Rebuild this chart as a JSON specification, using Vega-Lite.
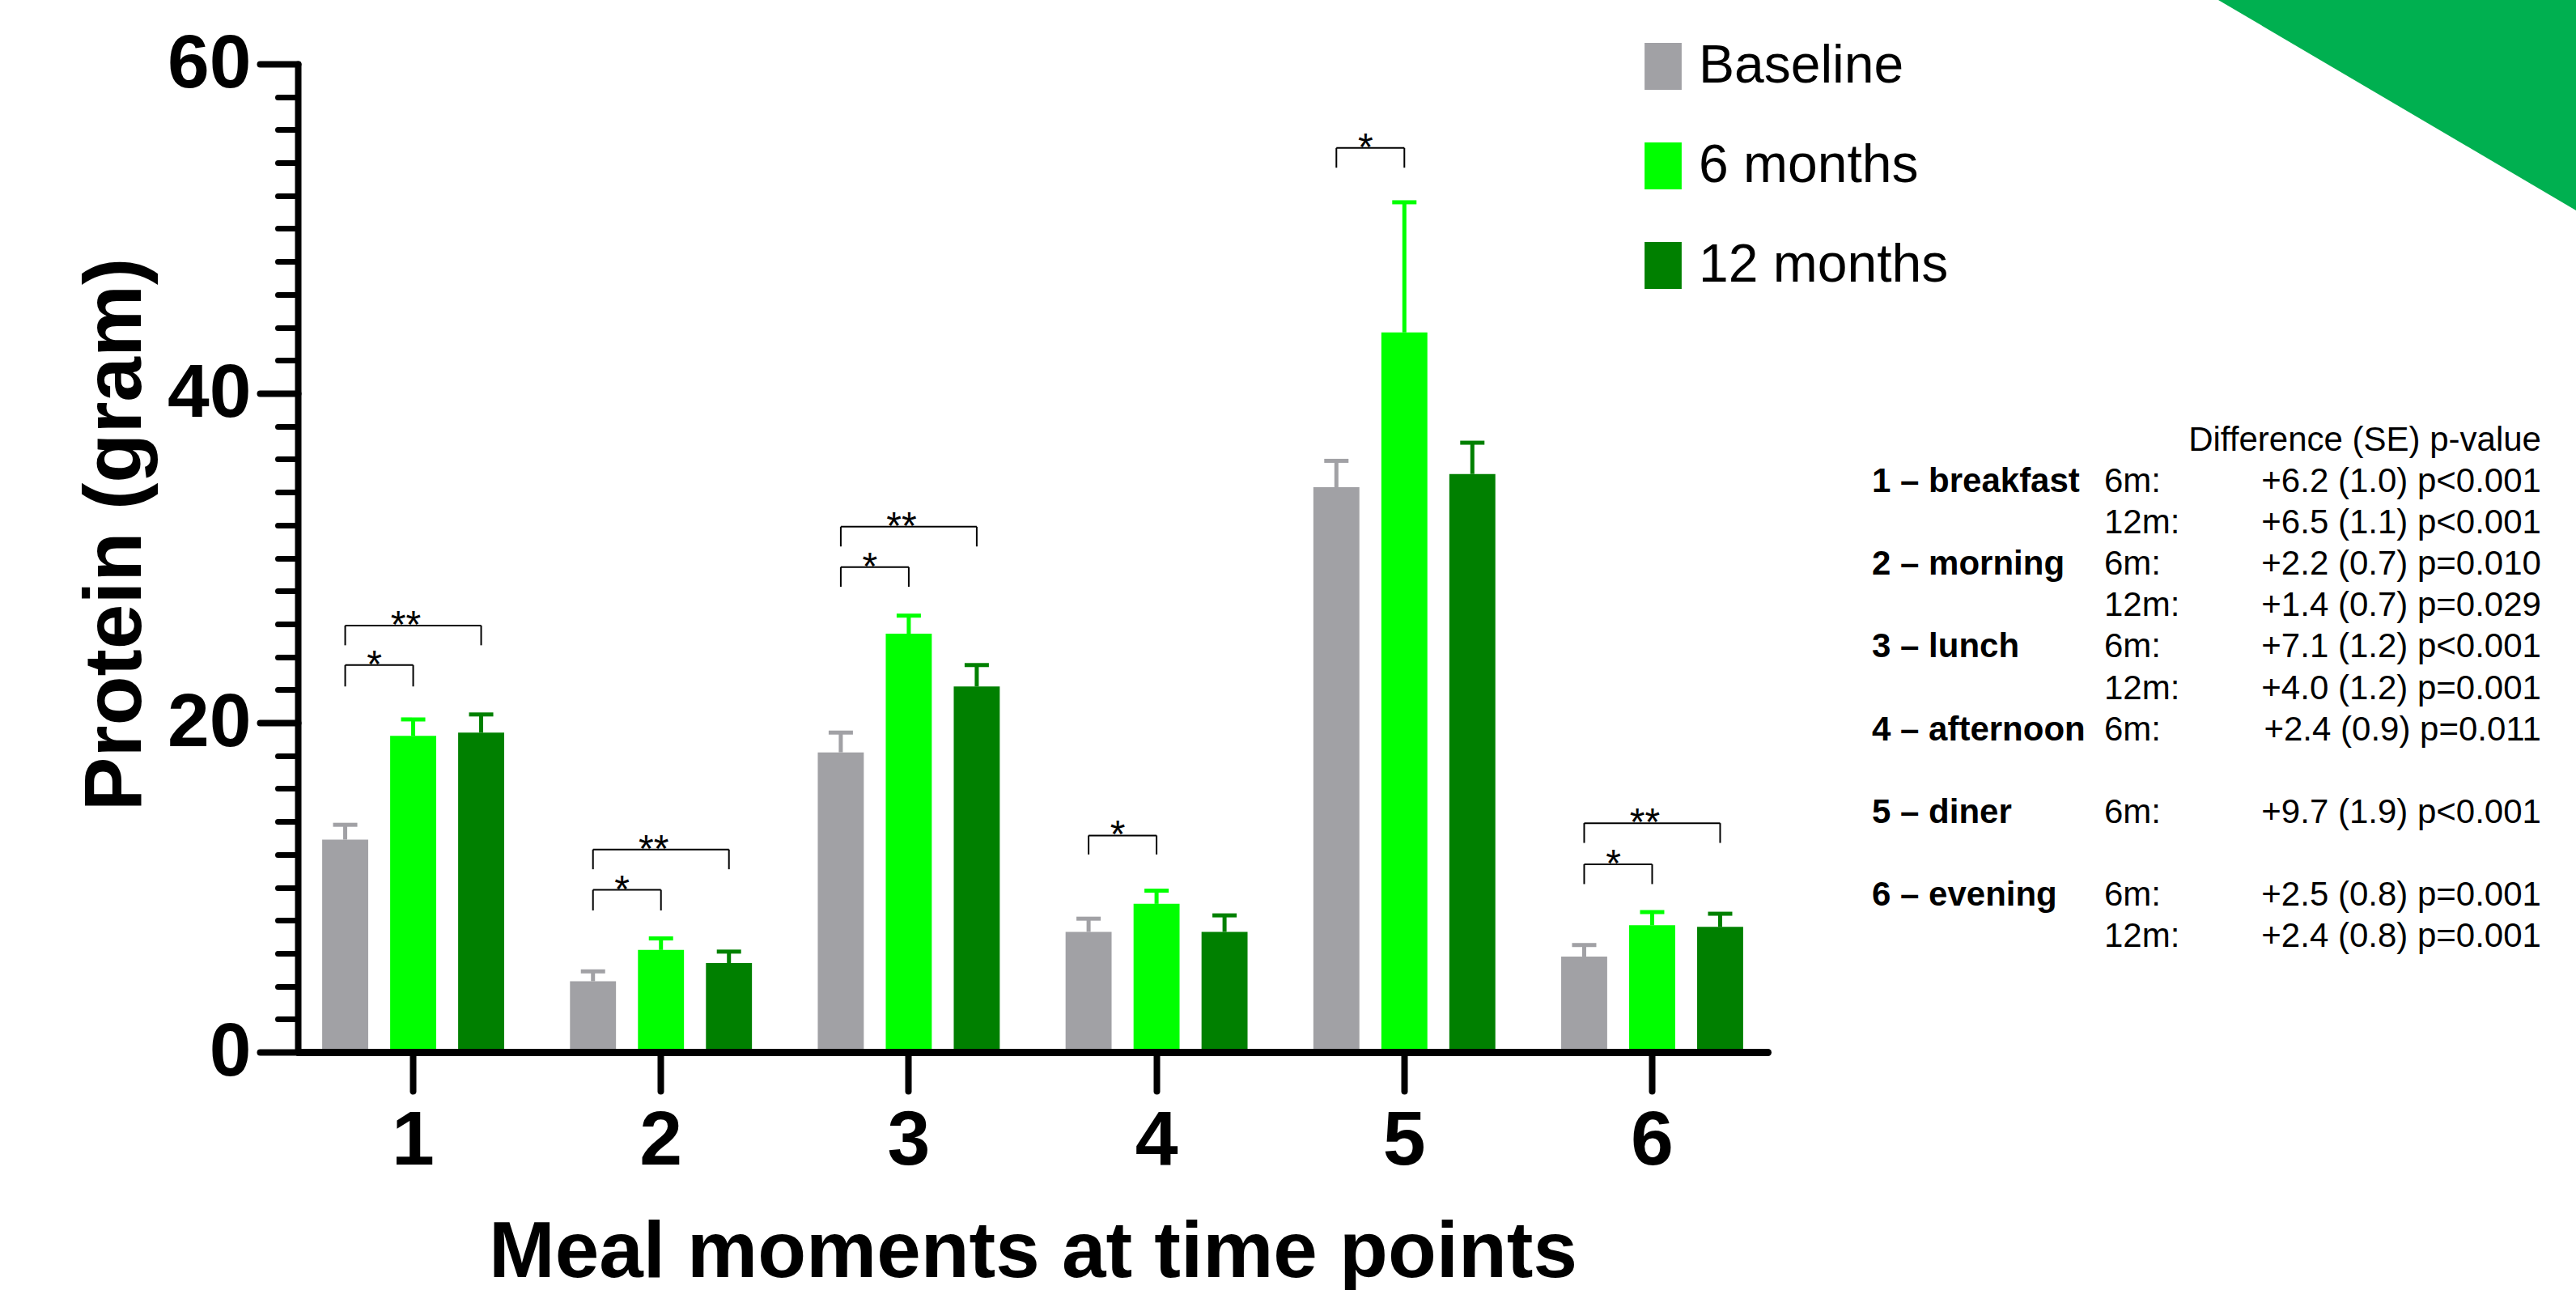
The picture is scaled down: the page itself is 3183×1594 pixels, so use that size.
{
  "$schema": "https://vega.github.io/schema/vega-lite/v6.json",
  "autosize": {"type": "none"},
  "padding": {"left": 368, "top": 79, "right": 2815, "bottom": 1515},
  "background": "white",
  "bounds": "flush",
  "spacing": 129,
  "config": {"view": {"stroke": null}, "font": "Liberation Sans"},
  "datasets": {
    "bars": [
      {"meal": 1, "time": "Baseline", "mean": 12.9, "upper": 13.8},
      {"meal": 1, "time": "6 months", "mean": 19.2, "upper": 20.2},
      {"meal": 1, "time": "12 months", "mean": 19.4, "upper": 20.5},
      {"meal": 2, "time": "Baseline", "mean": 4.3, "upper": 4.9},
      {"meal": 2, "time": "6 months", "mean": 6.2, "upper": 6.9},
      {"meal": 2, "time": "12 months", "mean": 5.4, "upper": 6.1},
      {"meal": 3, "time": "Baseline", "mean": 18.2, "upper": 19.4},
      {"meal": 3, "time": "6 months", "mean": 25.4, "upper": 26.5},
      {"meal": 3, "time": "12 months", "mean": 22.2, "upper": 23.5},
      {"meal": 4, "time": "Baseline", "mean": 7.3, "upper": 8.1},
      {"meal": 4, "time": "6 months", "mean": 9.0, "upper": 9.8},
      {"meal": 4, "time": "12 months", "mean": 7.3, "upper": 8.3},
      {"meal": 5, "time": "Baseline", "mean": 34.3, "upper": 35.9},
      {"meal": 5, "time": "6 months", "mean": 43.7, "upper": 51.6},
      {"meal": 5, "time": "12 months", "mean": 35.1, "upper": 37.0},
      {"meal": 6, "time": "Baseline", "mean": 5.8, "upper": 6.5},
      {"meal": 6, "time": "6 months", "mean": 7.7, "upper": 8.5},
      {"meal": 6, "time": "12 months", "mean": 7.6, "upper": 8.4}
    ],
    "brackets": [
      {"meal": 1, "from": "Baseline", "to": "6 months", "top": 23.5, "legEnd": 22.2, "label": "*"},
      {"meal": 1, "from": "Baseline", "to": "12 months", "top": 25.9, "legEnd": 24.7, "label": "**"},
      {"meal": 2, "from": "Baseline", "to": "6 months", "top": 9.85, "legEnd": 8.6, "label": "*"},
      {"meal": 2, "from": "Baseline", "to": "12 months", "top": 12.3, "legEnd": 11.1, "label": "**"},
      {"meal": 3, "from": "Baseline", "to": "6 months", "top": 29.45, "legEnd": 28.25, "label": "*"},
      {"meal": 3, "from": "Baseline", "to": "12 months", "top": 31.9, "legEnd": 30.7, "label": "**"},
      {"meal": 4, "from": "Baseline", "to": "6 months", "top": 13.15, "legEnd": 12.0, "label": "*"},
      {"meal": 5, "from": "Baseline", "to": "6 months", "top": 54.9, "legEnd": 53.7, "label": "*"},
      {"meal": 6, "from": "Baseline", "to": "6 months", "top": 11.4, "legEnd": 10.2, "label": "*"},
      {"meal": 6, "from": "Baseline", "to": "12 months", "top": 13.9, "legEnd": 12.7, "label": "**"}
    ],
    "table": [
      {"line": 0, "label": "", "tp": "", "stat": "Difference (SE) p-value"},
      {"line": 1, "label": "1 – breakfast", "tp": "6m:", "stat": "+6.2 (1.0) p<0.001"},
      {"line": 2, "label": "", "tp": "12m:", "stat": "+6.5 (1.1) p<0.001"},
      {"line": 3, "label": "2 – morning", "tp": "6m:", "stat": "+2.2 (0.7) p=0.010"},
      {"line": 4, "label": "", "tp": "12m:", "stat": "+1.4 (0.7) p=0.029"},
      {"line": 5, "label": "3 – lunch", "tp": "6m:", "stat": "+7.1 (1.2) p<0.001"},
      {"line": 6, "label": "", "tp": "12m:", "stat": "+4.0 (1.2) p=0.001"},
      {"line": 7, "label": "4 – afternoon", "tp": "6m:", "stat": "+2.4 (0.9) p=0.011"},
      {"line": 9, "label": "5 – diner", "tp": "6m:", "stat": "+9.7 (1.9) p<0.001"},
      {"line": 11, "label": "6 – evening", "tp": "6m:", "stat": "+2.5 (0.8) p=0.001"},
      {"line": 12, "label": "", "tp": "12m:", "stat": "+2.4 (0.8) p=0.001"}
    ],
    "corner": [
      {"cx": 0, "ctop": 0, "cbottom": 0},
      {"cx": 1, "ctop": 0, "cbottom": 1}
    ]
  },
  "hconcat": [
    {
      "width": 1816,
      "height": 1221,
      "encoding": {
        "x": {
          "field": "meal", "type": "ordinal",
          "scale": {"type": "band", "domain": [1, 2, 3, 4, 5, 6], "paddingInner": 0.177, "paddingOuter": 0.054},
          "axis": {
            "title": "Meal moments at time points",
            "titleFontSize": 98, "titleFontWeight": "bold", "titleColor": "black",
            "titleBaseline": "alphabetic", "titleX": 908, "titleY": 277, "titleAlign": "center",
            "labelFontSize": 95, "labelFontWeight": "bold", "labelColor": "black",
            "labelPadding": 15, "labelAngle": 0,
            "domainColor": "black", "domainWidth": 9, "domainCap": "round",
            "tickColor": "black", "tickWidth": 8, "tickSize": 48, "tickCap": "round",
            "grid": false, "zindex": 1
          }
        },
        "xOffset": {
          "field": "time", "type": "nominal",
          "scale": {"domain": ["Baseline", "6 months", "12 months"], "paddingInner": 0.323, "paddingOuter": 0.1615}
        }
      },
      "layer": [
        {
          "data": {"name": "bars"},
          "mark": {"type": "bar"},
          "encoding": {
            "y": {
              "field": "mean", "type": "quantitative", "stack": null,
              "scale": {"domain": [0, 60], "nice": false},
              "axis": {
                "orient": "left",
                "values": [0, 20, 40, 60],
                "title": "Protein (gram)",
                "titleFontSize": 100, "titleFontWeight": "bold", "titleColor": "black",
                "titleAngle": 270, "titleBaseline": "alphabetic", "titleAlign": "center",
                "titleX": -195, "titleY": 581,
                "labelFontSize": 93, "labelFontWeight": "bold", "labelColor": "black",
                "labelPadding": 11, "labelFlush": false, "labelOverlap": false,
                "domainColor": "black", "domainWidth": 8, "domainCap": "round",
                "tickColor": "black", "tickWidth": 8, "tickSize": 47, "tickCap": "round",
                "grid": false, "zindex": 1
              }
            },
            "color": {
              "field": "time", "type": "nominal",
              "scale": {"domain": ["Baseline", "6 months", "12 months"], "range": ["#A1A1A5", "#00FF00", "#008000"]},
              "legend": {
                "orient": "none", "legendX": 1654, "legendY": -30,
                "title": null, "padding": 0,
                "symbolType": "M-0.79,-1H0.79V1H-0.79Z", "symbolSize": 3364,
                "symbolStrokeWidth": 0, "symbolOpacity": 1,
                "labelFontSize": 66, "labelColor": "black", "labelOffset": 11,
                "labelLimit": 1000, "rowPadding": 57
              }
            }
          }
        },
        {
          "data": {"name": "bars"},
          "mark": {"type": "rule", "strokeWidth": 5},
          "encoding": {
            "y": {
              "field": "mean", "type": "quantitative",
              "scale": {"domain": [0, 60], "nice": false},
              "axis": {
                "orient": "left",
                "values": [2, 4, 6, 8, 10, 12, 14, 16, 18, 22, 24, 26, 28, 30, 32, 34, 36, 38, 42, 44, 46, 48, 50, 52, 54, 56, 58],
                "title": null, "labels": false, "domain": false, "grid": false,
                "tickColor": "black", "tickWidth": 7, "tickSize": 25, "tickCap": "round"
              }
            },
            "y2": {"field": "upper"},
            "color": {
              "field": "time", "type": "nominal",
              "scale": {"domain": ["Baseline", "6 months", "12 months"], "range": ["#A1A1A5", "#00FF00", "#008000"]},
              "legend": null
            }
          }
        },
        {
          "data": {"name": "bars"},
          "mark": {"type": "tick", "thickness": 5, "size": 30, "opacity": 1},
          "encoding": {
            "y": {"field": "upper", "type": "quantitative", "scale": {"domain": [0, 60], "nice": false}, "axis": null},
            "color": {
              "field": "time", "type": "nominal",
              "scale": {"domain": ["Baseline", "6 months", "12 months"], "range": ["#A1A1A5", "#00FF00", "#008000"]},
              "legend": null
            }
          }
        },
        {
          "data": {"name": "brackets"},
          "transform": [{"fold": ["from", "to"], "as": ["end", "time"]}],
          "mark": {"type": "line", "color": "black", "strokeWidth": 2},
          "encoding": {
            "y": {"field": "top", "type": "quantitative", "scale": {"domain": [0, 60], "nice": false}, "axis": null},
            "detail": [{"field": "meal", "type": "nominal"}, {"field": "label", "type": "nominal"}]
          }
        },
        {
          "data": {"name": "brackets"},
          "transform": [{"fold": ["from", "to"], "as": ["end", "time"]}],
          "mark": {"type": "rule", "color": "black", "strokeWidth": 2},
          "encoding": {
            "y": {"field": "top", "type": "quantitative", "scale": {"domain": [0, 60], "nice": false}, "axis": null},
            "y2": {"field": "legEnd"}
          }
        },
        {
          "data": {"name": "brackets"},
          "transform": [{"filter": "datum.label === '*'"}],
          "mark": {"type": "text", "fontSize": 48, "color": "black", "align": "center", "baseline": "alphabetic", "dy": 15, "dx": -48},
          "encoding": {
            "xOffset": {"datum": "6 months"},
            "y": {"field": "top", "type": "quantitative", "scale": {"domain": [0, 60], "nice": false}, "axis": null},
            "text": {"field": "label"}
          }
        },
        {
          "data": {"name": "brackets"},
          "transform": [{"filter": "datum.label === '**'"}],
          "mark": {"type": "text", "fontSize": 48, "color": "black", "align": "center", "baseline": "alphabetic", "dy": 15, "dx": -9},
          "encoding": {
            "xOffset": {"datum": "6 months"},
            "y": {"field": "top", "type": "quantitative", "scale": {"domain": [0, 60], "nice": false}, "axis": null},
            "text": {"field": "label"}
          }
        }
      ],
      "resolve": {"axis": {"y": "independent"}}
    },
    {
      "width": 870,
      "height": 1221,
      "layer": [
        {
          "data": {"name": "table"},
          "encoding": {
            "y": {"field": "line", "type": "quantitative", "scale": {"domain": [-9.354, 14.54], "reverse": true, "zero": false, "nice": false}, "axis": null}
          },
          "layer": [
            {
              "mark": {"type": "text", "align": "left", "baseline": "alphabetic", "fontSize": 42, "fontWeight": "bold", "color": "black"},
              "encoding": {
                "x": {"datum": "label", "type": "nominal", "bandPosition": 0, "scale": {"type": "band", "domain": ["label", "tp", "stat"], "paddingInner": 0.1185, "paddingOuter": 0.075, "align": 0}, "axis": null},
                "text": {"field": "label"}
              }
            },
            {
              "mark": {"type": "text", "align": "left", "baseline": "alphabetic", "fontSize": 42, "color": "black"},
              "encoding": {
                "x": {"datum": "tp", "type": "nominal", "bandPosition": 0, "scale": {"type": "band", "domain": ["label", "tp", "stat"], "paddingInner": 0.1185, "paddingOuter": 0.075, "align": 0}, "axis": null},
                "text": {"field": "tp"}
              }
            },
            {
              "mark": {"type": "text", "align": "right", "baseline": "alphabetic", "fontSize": 42, "color": "black"},
              "encoding": {
                "x": {"datum": "stat", "type": "nominal", "bandPosition": 1, "scale": {"type": "band", "domain": ["label", "tp", "stat"], "paddingInner": 0.1185, "paddingOuter": 0.075, "align": 0}, "axis": null},
                "text": {"field": "stat"}
              }
            }
          ]
        },
        {
          "data": {"name": "corner"},
          "mark": {"type": "area", "color": "#00B050", "opacity": 1},
          "encoding": {
            "x": {"field": "cx", "type": "quantitative", "scale": {"domain": [0, 1], "range": [428, 870], "nice": false}, "axis": null},
            "y": {"field": "ctop", "type": "quantitative", "stack": null, "scale": {"domain": [0, 1], "range": [-79, 181], "nice": false}, "axis": null},
            "y2": {"field": "cbottom"}
          }
        }
      ],
      "resolve": {"scale": {"x": "independent", "y": "independent"}}
    }
  ]
}
